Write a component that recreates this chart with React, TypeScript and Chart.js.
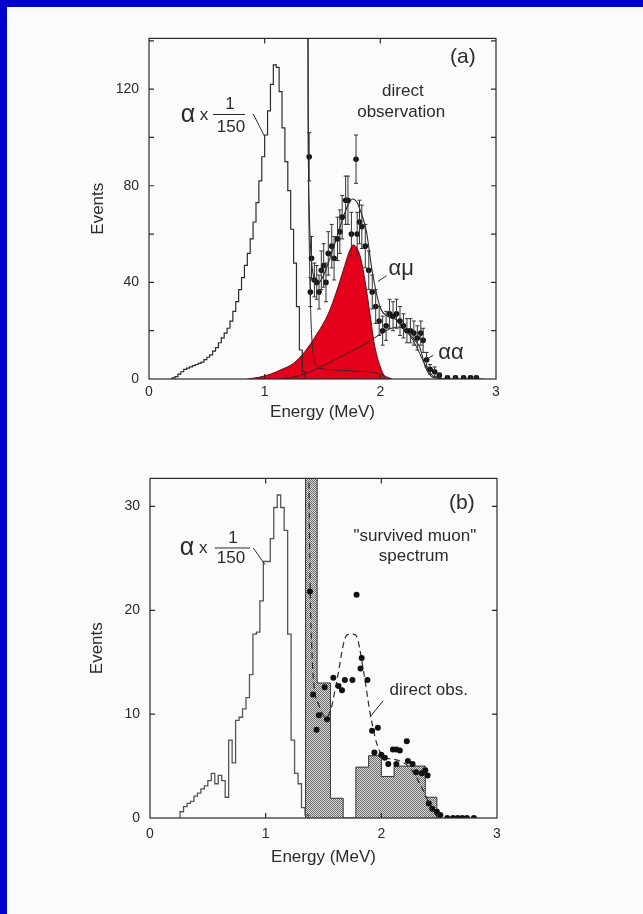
import React, { useEffect, useRef } from 'react';
import { Chart, registerables } from 'chart.js';
Chart.register(...registerables);

const FONT = '"Liberation Sans", Arial, Helvetica, sans-serif';
const INK = '#2b2b2b';
const RED = '#e5001c';

// ---------- Panel (a) ----------
const alphaAEdges = [0.200, 0.225, 0.250, 0.275, 0.300, 0.325, 0.350, 0.375, 0.400, 0.425, 0.450, 0.475, 0.500, 0.525, 0.550, 0.575, 0.600, 0.625, 0.650, 0.675, 0.700, 0.725, 0.750, 0.775, 0.800, 0.825, 0.850, 0.875, 0.900, 0.925, 0.950, 0.975, 1.000, 1.025, 1.050, 1.075, 1.100, 1.125, 1.150, 1.175, 1.200, 1.225, 1.250, 1.275, 1.300, 1.325, 1.350];
const alphaAVals = [0.5, 1, 2, 3, 4, 4.5, 5, 5.5, 6, 6.5, 7, 8, 9, 10, 11.5, 13, 15, 17, 19, 21, 24, 28, 32, 37, 42, 47, 52, 58, 65, 73, 82, 92, 101, 111, 122, 130, 129, 119, 104, 90, 78, 62, 48, 30, 12, 3];

const muE = [0.85, 0.95, 1.05, 1.15, 1.25, 1.35, 1.45, 1.55, 1.62, 1.68, 1.73, 1.765, 1.80, 1.83, 1.87, 1.91, 1.95, 2.00, 2.04, 2.09];
const muV = [0, 0.7, 2, 4, 6.5, 11.5, 18.5, 27, 36, 45, 52.5, 55.5, 54, 50, 40, 27, 14, 5, 1, 0];

const aaE = [1.15, 1.25, 1.35, 1.45, 1.55, 1.65, 1.75, 1.85, 1.95, 2.05, 2.15, 2.22, 2.30, 2.38, 2.45, 2.52];
const aaV = [0, 0.8, 2.2, 4.2, 6.5, 9, 11.5, 14, 17, 20, 21.5, 20, 14.5, 6.5, 1.5, 0];

const bgE = [1.370, 1.374, 1.38, 1.39, 1.40, 1.42, 1.45, 1.50, 1.60, 1.70, 1.80, 1.90, 2.00, 2.05, 2.10];
const bgV = [300, 140, 80, 45, 25, 10, 5.5, 4.2, 3.8, 3.5, 3.2, 3, 2, 1, 0];

const totE = [1.372, 1.376, 1.385, 1.40, 1.42, 1.45, 1.50, 1.55, 1.62, 1.68, 1.72, 1.76, 1.80, 1.84, 1.88, 1.93, 2.00, 2.06, 2.14, 2.20, 2.25, 2.30, 2.34, 2.39, 2.45, 2.50, 2.60, 2.90];
const totV = [300, 120, 70, 52, 43, 39, 42, 48, 58, 67, 72, 74.5, 73, 68, 61, 44.5, 29.5, 26, 24.5, 21, 18.7, 16, 13.2, 5, 0.8, 0.3, 0, 0];

const aPtE = [1.385, 1.395, 1.405, 1.43, 1.45, 1.47, 1.49, 1.51, 1.53, 1.55, 1.58, 1.60, 1.63, 1.65, 1.67, 1.70, 1.72, 1.75, 1.79, 1.80, 1.82, 1.84, 1.87, 1.90, 1.93, 1.96, 1.99, 2.02, 2.05, 2.08, 2.11, 2.14, 2.17, 2.20, 2.23, 2.26, 2.29, 2.32, 2.35, 2.37, 2.40, 2.43, 2.47, 2.51, 2.58, 2.65, 2.72, 2.78, 2.83];
const aPtV = [92, 36, 50, 41, 40, 36, 45, 47, 40, 52, 55, 50, 58, 61, 67, 74, 74, 60, 91, 60, 65, 63, 55, 45, 36, 30, 24, 20, 22, 27, 26, 27, 24, 22, 20, 20, 19, 17, 19, 16, 8, 4, 3, 1.5, 0.5, 0.5, 0.5, 0.5, 0.5];
const aPtErr = [10, 6, 9, 7, 7, 7, 8, 9, 8, 9, 9, 9, 9, 9, 9, 10, 10, 9, 10, 9, 9, 9, 9, 8, 7, 7, 6, 6, 6, 6, 6, 6, 6, 5, 5, 5, 5, 5, 5, 5, 3, 2, 2, 1, 0.8, 0.8, 0.8, 0.8, 0.8];

// ---------- Panel (b) ----------
const alphaBEdges = [0.26, 0.29, 0.32, 0.35, 0.38, 0.41, 0.44, 0.47, 0.50, 0.53, 0.56, 0.59, 0.62, 0.65, 0.68, 0.71, 0.74, 0.77, 0.80, 0.83, 0.86, 0.89, 0.92, 0.95, 0.98, 1.01, 1.04, 1.07, 1.10, 1.13, 1.16, 1.19, 1.22, 1.25, 1.28, 1.31, 1.34, 1.37];
const alphaBVals = [0.6, 1.1, 1.4, 1.6, 2.1, 2.4, 2.8, 3.1, 3.6, 4.3, 3.3, 4.1, 3.6, 2.0, 7.5, 5.3, 9.4, 9.7, 10.5, 11.6, 13.8, 17.7, 17.9, 20.9, 24.7, 24.7, 26.9, 29.9, 31.1, 29.9, 27.7, 17.7, 7.5, 4.3, 3.3, 1.0, 0.3];

const survEdges = [1.345, 1.445, 1.56, 1.67, 1.78, 1.89, 2.0, 2.11, 2.24, 2.38, 2.48];
const survVals = [45, 13, 1.9, 0, 4.9, 6, 4, 5, 5, 2];

const dirE = [1.37, 1.375, 1.385, 1.40, 1.42, 1.455, 1.52, 1.56, 1.61, 1.70, 1.74, 1.78, 1.845, 1.90, 1.96, 2.02, 2.13, 2.25, 2.36, 2.44, 2.5];
const dirV = [40, 32, 22, 16, 12.5, 11, 9.7, 10.3, 12.9, 17.6, 17.7, 17.6, 14.2, 10.3, 7.2, 5.9, 5.6, 4.8, 2.7, 0.8, 0];

const bPtE = [1.383, 1.41, 1.44, 1.46, 1.51, 1.53, 1.585, 1.63, 1.66, 1.685, 1.75, 1.786, 1.82, 1.83, 1.88, 1.92, 1.94, 1.97, 2.0, 2.03, 2.06, 2.10, 2.13, 2.13, 2.16, 2.22, 2.23, 2.27, 2.30, 2.35, 2.38, 2.40, 2.41, 2.44, 2.48, 2.51, 2.57, 2.62, 2.66, 2.70, 2.74, 2.80];
const bPtV = [21.8, 11.9, 8.5, 9.9, 12.6, 9.5, 13.5, 12.7, 12.3, 13.3, 13.3, 21.5, 14.4, 15.4, 13.3, 8.4, 6.3, 8.7, 6.1, 5.8, 5.2, 6.6, 6.6, 5.2, 6.5, 7.4, 5.5, 5.2, 4.4, 4.3, 4.6, 4.1, 1.4, 0.9, 0.6, 0.3, 0, 0, 0, 0, 0, 0];

// ---------- helpers ----------
const pairs = (xs: number[], ys: number[]) => xs.map((x, i) => ({ x, y: ys[i] }));
const hist = (edges: number[], vals: number[]) => {
  const out = [{ x: edges[0], y: 0 }];
  vals.forEach((v, i) => out.push({ x: edges[i], y: v }));
  out.push({ x: edges[edges.length - 1], y: 0 });
  return out;
};

function hatchPattern() {
  const c = document.createElement('canvas');
  c.width = 2; c.height = 2;
  const g = c.getContext('2d')!;
  g.fillStyle = '#dcdcdc'; g.fillRect(0, 0, 2, 2);
  g.fillStyle = '#6a6a6a'; g.fillRect(0, 0, 1, 1); g.fillRect(1, 1, 1, 1);
  return g.createPattern(c, 'repeat');
}

type Note = { t: string; x: number; y: number; s: number; align?: CanvasTextAlign };
function framePlugin(xT: number[], yT: number[]) {
  return {
    id: 'frame',
    afterDatasetsDraw(chart: any) {
      const { ctx, chartArea: a, scales: { x, y } } = chart;
      ctx.save();
      ctx.strokeStyle = INK; ctx.lineWidth = 1.2;
      ctx.strokeRect(a.left, a.top, a.right - a.left, a.bottom - a.top);
      const L = 5;
      ctx.beginPath();
      xT.forEach((v) => { const p = x.getPixelForValue(v); ctx.moveTo(p, a.bottom); ctx.lineTo(p, a.bottom - L); ctx.moveTo(p, a.top); ctx.lineTo(p, a.top + L); });
      yT.forEach((v) => { const p = y.getPixelForValue(v); ctx.moveTo(a.left, p); ctx.lineTo(a.left + L, p); ctx.moveTo(a.right, p); ctx.lineTo(a.right - L, p); });
      ctx.stroke();
      ctx.restore();
    },
  };
}
function notesPlugin(texts: Note[], lines: number[][]) {
  return {
    id: 'notes',
    afterDraw(chart: any) {
      const { ctx, scales: { x, y } } = chart;
      ctx.save();
      ctx.fillStyle = INK; ctx.strokeStyle = INK; ctx.lineWidth = 1;
      ctx.textBaseline = 'middle';
      texts.forEach((n) => {
        ctx.font = `${n.s}px ${FONT}`;
        ctx.textAlign = n.align || 'center';
        ctx.fillText(n.t, x.getPixelForValue(n.x), y.getPixelForValue(n.y));
      });
      lines.forEach((l) => {
        ctx.beginPath();
        ctx.moveTo(x.getPixelForValue(l[0]), y.getPixelForValue(l[1]));
        ctx.lineTo(x.getPixelForValue(l[2]), y.getPixelForValue(l[3]));
        ctx.stroke();
      });
      ctx.restore();
    },
  };
}
function errorPlugin(xs: number[], ys: number[], es: number[]) {
  return {
    id: 'errbars',
    afterDatasetsDraw(chart: any) {
      const { ctx, chartArea: a, scales: { x, y } } = chart;
      ctx.save();
      ctx.beginPath(); ctx.rect(a.left, a.top, a.right - a.left, a.bottom - a.top); ctx.clip();
      ctx.strokeStyle = '#333'; ctx.lineWidth = 1;
      ctx.beginPath();
      xs.forEach((xv, i) => {
        const px = x.getPixelForValue(xv);
        const y1 = y.getPixelForValue(ys[i] - es[i]);
        const y2 = y.getPixelForValue(ys[i] + es[i]);
        ctx.moveTo(px, y1); ctx.lineTo(px, y2);
        ctx.moveTo(px - 2, y1); ctx.lineTo(px + 2, y1);
        ctx.moveTo(px - 2, y2); ctx.lineTo(px + 2, y2);
      });
      ctx.stroke();
      ctx.restore();
    },
  };
}

function axes(yMax: number, yStep: number, yLabelEvery: number, yW: number, xH: number, xPad: number, xTitlePad: number, yTitlePad: number) {
  const tickFont = { family: FONT, size: 14 };
  const titleFont = { family: FONT, size: 17 };
  return {
    x: {
      type: 'linear', min: 0, max: 3,
      grid: { display: false, drawTicks: false }, border: { display: false },
      ticks: { stepSize: 1, padding: xPad, color: INK, font: tickFont, maxRotation: 0 },
      title: { display: true, text: 'Energy (MeV)', color: INK, font: titleFont, padding: { top: 0, bottom: xTitlePad } },
      afterFit(s: any) { s.height = xH; },
    },
    y: {
      type: 'linear', min: 0, max: yMax,
      grid: { display: false, drawTicks: false }, border: { display: false },
      ticks: { stepSize: yStep, padding: 10, color: INK, font: tickFont, autoSkip: false,
        callback: (v: number) => (Math.abs(v % yLabelEvery) < 1e-9 ? String(v) : '') },
      title: { display: true, text: 'Events', color: INK, font: titleFont, padding: { top: yTitlePad, bottom: 0 } },
      afterFit(s: any) { s.width = yW; },
    },
  };
}

function buildA(): any {
  return {
    type: 'scatter',
    data: {
      datasets: [
        { data: pairs(aPtE, aPtV), pointRadius: 2.8, pointBackgroundColor: '#111', pointBorderWidth: 0, showLine: false },
        { data: pairs(totE, totV), showLine: true, pointRadius: 0, borderColor: INK, borderWidth: 1.1, cubicInterpolationMode: 'monotone' },
        { data: pairs(bgE, bgV), showLine: true, pointRadius: 0, borderColor: INK, borderWidth: 1, cubicInterpolationMode: 'monotone' },
        { data: pairs(aaE, aaV), showLine: true, pointRadius: 0, borderColor: '#3a1a1a', borderWidth: 1, cubicInterpolationMode: 'monotone' },
        { data: hist(alphaAEdges, alphaAVals), showLine: true, stepped: 'before', pointRadius: 0, borderColor: INK, borderWidth: 1.2 },
        { data: pairs(muE, muV), showLine: true, pointRadius: 0, borderColor: '#5a1010', borderWidth: 1, backgroundColor: RED, fill: 'origin', cubicInterpolationMode: 'monotone' },
      ],
    },
    options: {
      responsive: false, animation: false, devicePixelRatio: 1,
      layout: { padding: { left: 0, top: 14, right: 44, bottom: 0 } },
      plugins: { legend: { display: false }, tooltip: { enabled: false } },
      scales: axes(141, 20, 40, 69, 61, 5, 17, 8),
    },
    plugins: [
      errorPlugin(aPtE, aPtV, aPtErr),
      framePlugin([1, 2], [20, 40, 60, 80, 100, 120, 140]),
      notesPlugin(
        [
          { t: '(a)', x: 2.714, y: 133.4, s: 21 },
          { t: 'direct', x: 2.195, y: 119.2, s: 17 },
          { t: 'observation', x: 2.18, y: 110.6, s: 17 },
          { t: 'αμ', x: 2.18, y: 45.7, s: 22 },
          { t: 'αα', x: 2.61, y: 10.6, s: 22 },
          { t: 'α', x: 0.337, y: 109.3, s: 25 },
          { t: 'x', x: 0.475, y: 109.3, s: 17 },
          { t: '1', x: 0.70, y: 113.8, s: 17 },
          { t: '150', x: 0.709, y: 104.0, s: 17 },
        ],
        [
          [0.553, 109.5, 0.83, 109.5],
          [0.901, 109.7, 1.0, 100.4],
          [2.054, 42.8, 1.98, 40.4],
          [2.457, 9.8, 2.385, 7.75],
        ],
      ),
    ],
  };
}

function buildB(): any {
  return {
    type: 'scatter',
    data: {
      datasets: [
        { data: pairs(bPtE, bPtV), pointRadius: 3, pointBackgroundColor: '#111', pointBorderWidth: 0, showLine: false },
        { data: pairs(dirE, dirV), showLine: true, pointRadius: 0, borderColor: INK, borderWidth: 1.2, borderDash: [6, 4], cubicInterpolationMode: 'monotone' },
        { data: hist(alphaBEdges, alphaBVals), showLine: true, stepped: 'before', pointRadius: 0, borderColor: '#555', borderWidth: 1.3 },
        { data: hist(survEdges, survVals), showLine: true, stepped: 'before', pointRadius: 0, borderColor: '#333', borderWidth: 1, backgroundColor: hatchPattern(), fill: 'origin' },
      ],
    },
    options: {
      responsive: false, animation: false, devicePixelRatio: 1,
      layout: { padding: { left: 0, top: 16, right: 43, bottom: 0 } },
      plugins: { legend: { display: false }, tooltip: { enabled: false } },
      scales: axes(32.7, 10, 10, 70, 62, 8, 12, 7),
    },
    plugins: [
      framePlugin([1, 2], [10, 20, 30]),
      notesPlugin(
        [
          { t: '(b)', x: 2.697, y: 30.3, s: 21 },
          { t: '"survived muon"', x: 2.29, y: 27.1, s: 17 },
          { t: 'spectrum', x: 2.28, y: 25.2, s: 17 },
          { t: 'direct obs.', x: 2.41, y: 12.25, s: 17 },
          { t: 'α', x: 0.32, y: 26.0, s: 25 },
          { t: 'x', x: 0.46, y: 26.0, s: 17 },
          { t: '1', x: 0.717, y: 26.9, s: 17 },
          { t: '150', x: 0.70, y: 25.0, s: 17 },
        ],
        [
          [0.56, 26.0, 0.864, 26.0],
          [0.893, 26.0, 0.994, 24.4],
          [2.017, 11.3, 1.90, 9.7],
        ],
      ),
    ],
  };
}

function Panel({ build, left, top }: { build: () => any; left: number; top: number }) {
  const ref = useRef<HTMLCanvasElement | null>(null);
  useEffect(() => {
    const chart = new Chart(ref.current as HTMLCanvasElement, build());
    return () => chart.destroy();
  }, []);
  return <canvas ref={ref} width={460} height={420} style={{ position: 'absolute', left, top, width: 460, height: 420 }} />;
}

export default function App() {
  return (
    <div style={{ position: 'absolute', left: 0, top: 0, width: 643, height: 914, background: '#0000cc', overflow: 'hidden' }}>
      <div style={{ position: 'absolute', left: 7, top: 7, width: 636, height: 907, background: '#fbfbfb' }} />
      <Panel build={buildA} left={80} top={20} />
      <Panel build={buildB} left={80} top={460} />
    </div>
  );
}
